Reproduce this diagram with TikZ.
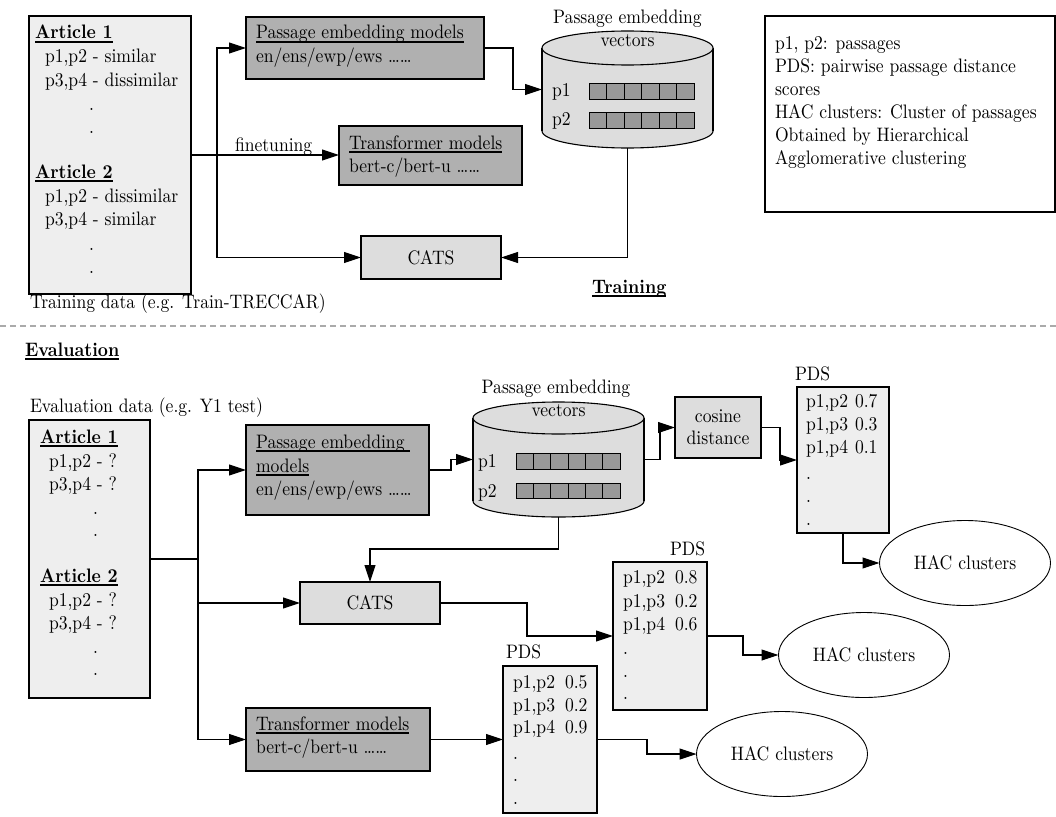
\documentclass[tikz,border=0pt]{standalone}
\usetikzlibrary{arrows.meta,shapes.geometric}

\definecolor{datafill}{HTML}{EEEEEE}
\definecolor{modelfill}{HTML}{B0B0B0}
\definecolor{opfill}{HTML}{DDDDDD}
\definecolor{cellfill}{HTML}{999999}
\definecolor{sepgray}{HTML}{AAAAAA}

% thick underline for headings (scaled with the text node)
\newcommand{\ulx}[1]{\setbox0\hbox{#1}\rlap{\rule[-1.8pt]{\wd0}{0.8pt}}\box0}
\newcommand{\bodyfont}{\fontsize{10}{12}\selectfont}

\begin{document}
\begin{tikzpicture}[x=1pt,y=-1pt,
  every node/.style={inner sep=0pt, outer sep=0pt},
  label/.style={font=\bodyfont, xscale=1.76, yscale=1.95},
  box/.style={draw, line width=1.1pt, rectangle, anchor=north west},
  txt/.style={label, anchor=base west},
  ctxt/.style={label, anchor=base},
  mtxt/.style={label, anchor=center},
  wire/.style={line width=1.1pt},
  arr/.style={wire, -{Triangle[length=17pt,width=11pt]}},
  hac/.style={draw, line width=0.9pt, ellipse, minimum width=171pt, minimum height=85pt, fill=white},
  cell/.style={line width=0.9pt, draw, fill=cellfill}
]
\useasboundingbox (0,0) rectangle (1056,816);

% ---------------- Training ----------------
\node[box, fill=datafill, minimum width=162pt, minimum height=278pt] (tdata) at (29,16) {};
\node[txt] (ta1) at (35,39) {\ulx{\textbf{Article 1}}};
\node[txt] (ta1a) at (45,63) {p1,p2 - similar};
\node[txt] (ta1b) at (45,86) {p3,p4 - dissimilar};
\node[txt] (ta1c) at (89,110) {.};
\node[txt] (ta1d) at (89,133) {.};
\node[txt] (ta2) at (35,178) {\ulx{\textbf{Article 2}}};
\node[txt] (ta2a) at (45,202) {p1,p2 - dissimilar};
\node[txt] (ta2b) at (45,225) {p3,p4 - similar};
\node[txt] (ta2c) at (89,250) {.};
\node[txt] (ta2d) at (89,273) {.};
\node[txt] (tcap) at (30,308) {Training data (e.g. Train-TRECCAR)};

\node[box, fill=modelfill, minimum width=238pt, minimum height=62pt] (pem1) at (246,17) {};
\node[txt] (pem1a) at (256,39) {\ulx{Passage embedding models}};
\node[txt] (pem1b) at (256,63) {en/ens/ewp/ews ……};

\node[box, fill=modelfill, minimum width=183pt, minimum height=59pt] (tr1) at (339,126) {};
\node[txt] (tr1a) at (349,149) {\ulx{Transformer models}};
\node[txt] (tr1b) at (349,172) {bert-c/bert-u ……};

\node[box, fill=opfill, minimum width=140pt, minimum height=43pt] (cats1) at (361,236) {};
\node[mtxt] (cats1t) at (cats1.center) {CATS};

% embedding store (training)
\node[box, draw=none, minimum width=171pt, minimum height=117pt] (cyl1) at (542,31) {};
\fill[opfill] (542,48) rectangle (713,131);
\draw[wire, fill=opfill] (627.5,131) ellipse [x radius=85.5, y radius=17];
\fill[opfill] (542,48) rectangle (713,131);
\draw[wire] (542,48) -- (542,131) (713,48) -- (713,131);
\draw[wire, fill=opfill] (627.5,48) ellipse [x radius=85.5, y radius=17];
\node[ctxt] (cyl1l) at (627.5,24) {Passage embedding};
\node[ctxt] (cyl1v) at (627.5,47) {vectors};
\node[txt] (cyl1p1) at (552,96) {p1};
\node[txt] (cyl1p2) at (552,125) {p2};
\foreach \i in {0,...,5} {
  \draw[cell] (589+\i*17.5,83) rectangle ++(17.5,16);
  \draw[cell] (589+\i*17.5,112) rectangle ++(17.5,16);
}

\node[txt] (trainhd) at (592,293) {\ulx{\textbf{Training}}};

% legend
\node[box, minimum width=290pt, minimum height=196pt] (legend) at (765,16) {};
\node[txt] (lg1) at (775,49) {p1, p2: passages};
\node[txt] (lg2) at (775,72) {PDS: pairwise passage distance};
\node[txt] (lg3) at (775,95) {scores};
\node[txt] (lg4) at (775,118) {HAC clusters: Cluster of passages};
\node[txt] (lg5) at (775,141) {Obtained by Hierarchical};
\node[txt] (lg6) at (775,164) {Agglomerative clustering};

% training connectors
\path (tdata.east) ++(26,0) coordinate (tj);
\draw[arr] (tdata.east) -- (tdata.east -| tr1.west);
\node[txt] (ft) at (235,151) {finetuning};
\draw[arr] (tj) |- (pem1.west);
\draw[arr] (tj) |- (cats1.west);
\draw[arr] (pem1.east) -- ++(29,0) |- (cyl1.west);
\draw[arr] (cyl1.south) |- (cats1.east);

% separator
\draw[sepgray, line width=2pt, dash pattern=on 6pt off 4pt] (0,326) -- (1056,326);

% ---------------- Evaluation ----------------
\node[txt] (evalhd) at (25,356) {\ulx{\textbf{Evaluation}}};
\node[txt] (ecap) at (30,412) {Evaluation data (e.g. Y1 test)};

\node[box, fill=datafill, minimum width=121pt, minimum height=278pt] (edata) at (29,420) {};
\node[txt] (ea1) at (40,443) {\ulx{\textbf{Article 1}}};
\node[txt] (ea1a) at (49,467) {p1,p2 - ?};
\node[txt] (ea1b) at (49,490) {p3,p4 - ?};
\node[txt] (ea1c) at (93,514) {.};
\node[txt] (ea1d) at (93,536) {.};
\node[txt] (ea2) at (40,582) {\ulx{\textbf{Article 2}}};
\node[txt] (ea2a) at (49,606) {p1,p2 - ?};
\node[txt] (ea2b) at (49,629) {p3,p4 - ?};
\node[txt] (ea2c) at (93,653) {.};
\node[txt] (ea2d) at (93,675) {.};

\node[box, fill=modelfill, minimum width=183pt, minimum height=90pt] (pem2) at (246,425) {};
\node[txt] (pem2a) at (256,448) {\ulx{Passage embedding }};
\node[txt] (pem2b) at (256,472) {\ulx{models}};
\node[txt] (pem2c) at (256,495) {en/ens/ewp/ews ……};

\node[box, fill=opfill, minimum width=140pt, minimum height=42pt] (cats2) at (300,582) {};
\node[mtxt] (cats2t) at (cats2.center) {CATS};

\node[box, fill=modelfill, minimum width=184pt, minimum height=63pt] (tr2) at (246,708) {};
\node[txt] (tr2a) at (256,730) {\ulx{Transformer models}};
\node[txt] (tr2b) at (256,753) {bert-c/bert-u ……};

% embedding store (evaluation)
\node[box, draw=none, minimum width=171pt, minimum height=115pt] (cyl2) at (473,402) {};
\fill[opfill] (473,418) rectangle (644,501);
\draw[wire, fill=opfill] (558.5,501) ellipse [x radius=85.5, y radius=16];
\fill[opfill] (473,418) rectangle (644,501);
\draw[wire] (473,418) -- (473,501) (644,418) -- (644,501);
\draw[wire, fill=opfill] (558.5,418) ellipse [x radius=85.5, y radius=16];
\node[ctxt] (cyl2l) at (556,393) {Passage embedding};
\node[ctxt] (cyl2v) at (558.5,416) {vectors};
\node[txt] (cyl2p1) at (478,467) {p1};
\node[txt] (cyl2p2) at (478,497) {p2};
\foreach \i in {0,...,5} {
  \draw[cell] (516+\i*17.33,453) rectangle ++(17.33,16);
  \draw[cell] (516+\i*17.33,483) rectangle ++(17.33,15);
}

\node[box, fill=opfill, minimum width=86pt, minimum height=61pt] (cosd) at (675,397) {};
\node[ctxt] (cosa) at (718,422) {cosine};
\node[ctxt] (cosb) at (718,444) {distance};

% PDS tables
\node[box, fill=datafill, minimum width=92pt, minimum height=146pt] (pds1) at (797,387) {};
\node[txt] (pds1h) at (795,380) {PDS};
\node[txt] (pds1a) at (806,407) {p1,p2};
\node[txt] (pds1av) at (855,407) {0.7};
\node[txt] (pds1b) at (806,430) {p1,p3};
\node[txt] (pds1bv) at (855,430) {0.3};
\node[txt] (pds1c) at (806,453) {p1,p4};
\node[txt] (pds1cv) at (855,453) {0.1};
\node[txt] (pds1d) at (806,479) {.};
\node[txt] (pds1e) at (806,502) {.};
\node[txt] (pds1f) at (806,525) {.};

\node[box, fill=datafill, minimum width=94pt, minimum height=148pt] (pds2) at (613,562) {};
\node[txt] (pds2h) at (670,555) {PDS};
\node[txt] (pds2a) at (623,583) {p1,p2};
\node[txt] (pds2av) at (675,583) {0.8};
\node[txt] (pds2b) at (623,607) {p1,p3};
\node[txt] (pds2bv) at (675,607) {0.2};
\node[txt] (pds2c) at (623,630) {p1,p4};
\node[txt] (pds2cv) at (675,630) {0.6};
\node[txt] (pds2d) at (623,654) {.};
\node[txt] (pds2e) at (623,677) {.};
\node[txt] (pds2f) at (623,699) {.};

\node[box, fill=datafill, minimum width=94pt, minimum height=147pt] (pds3) at (503,666) {};
\node[txt] (pds3h) at (506,658) {PDS};
\node[txt] (pds3a) at (513,688) {p1,p2};
\node[txt] (pds3av) at (565,688) {0.5};
\node[txt] (pds3b) at (513,711) {p1,p3};
\node[txt] (pds3bv) at (565,711) {0.2};
\node[txt] (pds3c) at (513,733) {p1,p4};
\node[txt] (pds3cv) at (565,733) {0.9};
\node[txt] (pds3d) at (513,759) {.};
\node[txt] (pds3e) at (513,781) {.};
\node[txt] (pds3f) at (513,804) {.};

% clusters
\node[hac] (hac1) at (965,563) {};
\node[mtxt] (hac1t) at (hac1.center) {HAC clusters};
\node[hac] (hac2) at (864,655) {};
\node[mtxt] (hac2t) at (hac2.center) {HAC clusters};
\node[hac] (hac3) at (782,754) {};
\node[mtxt] (hac3t) at (hac3.center) {HAC clusters};

% evaluation connectors
\path (edata.east) ++(48,0) coordinate (ej);
\draw[wire] (edata.east) -- (ej);
\draw[arr] (ej) |- (pem2.west);
\draw[arr] (ej) |- (cats2.west);
\draw[arr] (ej) |- (tr2.west);
\draw[arr] (pem2.east) -- ++(22,0) |- (cyl2.west);
\draw[arr] (cyl2.east) -- ++(16,0) |- (cosd.west);
\draw[arr] (cosd.east) -- ++(19,0) |- (pds1.west);
\draw[arr] (pds1.south) |- (hac1.west);
\draw[arr] (cyl2.south) -- ++(0,32) -| (cats2.north);
\draw[arr] (cats2.east) -- ++(87,0) |- (pds2.west);
\draw[arr] (pds2.east) -- ++(36,0) |- (hac2.west);
\draw[arr] (tr2.east) -- (pds3.west);
\draw[arr] (pds3.east) -- ++(50,0) |- (hac3.west);
\end{tikzpicture}
\end{document}
